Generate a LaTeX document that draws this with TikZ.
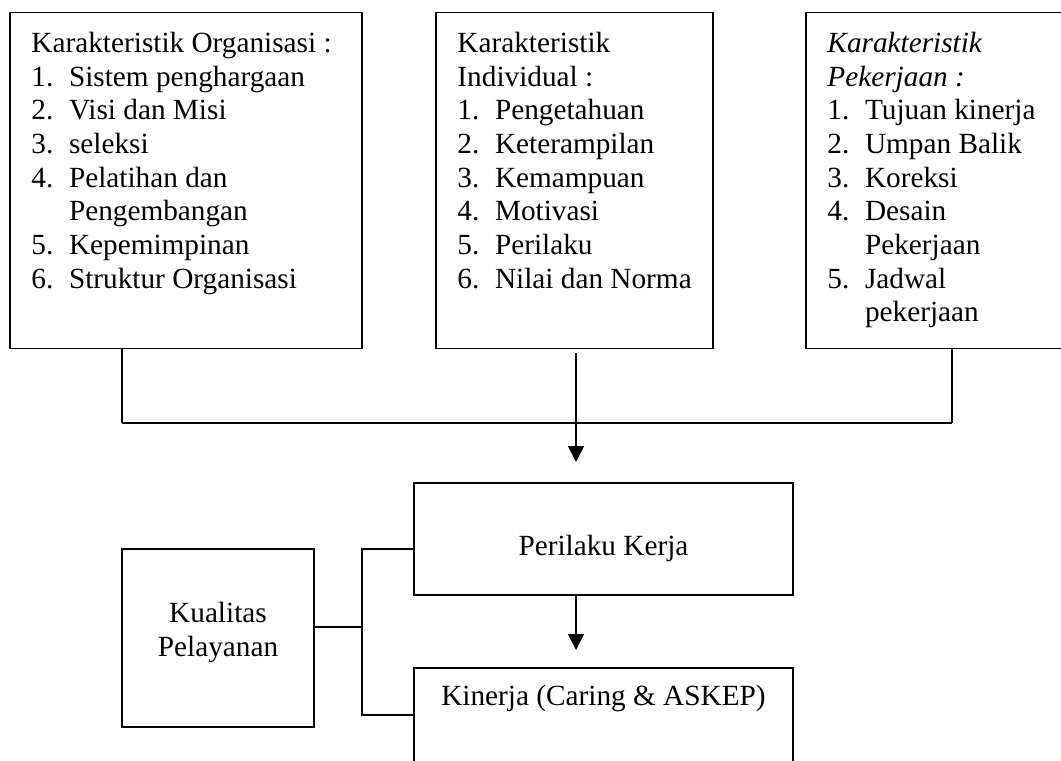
\documentclass[tikz,border=0pt]{standalone}
\usepackage{fontspec}
\setmainfont{Liberation Serif}
\usetikzlibrary{arrows.meta,fit,calc}
\newcommand{\itemnum}[1]{\makebox[15.4pt][l]{#1}}
\newcommand{\itemcont}{\hspace*{15.4pt}}
\begin{document}
\begin{tikzpicture}[x=0.41pt,y=-0.41pt,
  box/.style={draw,line width=0.75pt,inner sep=0pt},
  txt/.style={inner sep=0pt,font=\fontsize{12pt}{13.8pt}\selectfont},
  conn/.style={line width=0.75pt},
  thickconn/.style={line width=1.2pt},
  arr/.style={line width=0.7pt,-{Triangle[length=6.5pt,width=6.5pt]}}]
\useasboundingbox (0,0) rectangle (1061,760);
% boxes
\node[box, fit={(10,12.5)(362,348.5)}] (b1) {};
\node[box, fit={(436,12.5)(713,348.5)}] (b2) {};
\node[box, fit={(806,12.5)(1075,348.5)}] (b3) {};
\node[box, fit={(414,483)(793,595)}] (b4) {};
\node[box, fit={(414,668)(793,790)}] (b5) {};
\node[box, fit={(122,549)(314,727)}] (b6) {};
% texts
\node[txt,anchor=north west] (t1) at (31,28.4) {\begin{tabular}{@{}l@{}}
Karakteristik Organisasi :\\
\itemnum{1.}Sistem penghargaan\\
\itemnum{2.}Visi dan Misi\\
\itemnum{3.}seleksi\\
\itemnum{4.}Pelatihan dan\\
\itemcont Pengembangan\\
\itemnum{5.}Kepemimpinan\\
\itemnum{6.}Struktur Organisasi
\end{tabular}};
\node[txt,anchor=north west] (t2) at (457,28.4) {\begin{tabular}{@{}l@{}}
Karakteristik\\
Individual :\\
\itemnum{1.}Pengetahuan\\
\itemnum{2.}Keterampilan\\
\itemnum{3.}Kemampuan\\
\itemnum{4.}Motivasi\\
\itemnum{5.}Perilaku\\
\itemnum{6.}Nilai dan Norma
\end{tabular}};
\node[txt,anchor=north west] (t3) at (827,28.4) {\begin{tabular}{@{}l@{}}
\textit{Karakteristik}\\
\textit{Pekerjaan :}\\
\itemnum{1.}Tujuan kinerja\\
\itemnum{2.}Umpan Balik\\
\itemnum{3.}Koreksi\\
\itemnum{4.}Desain\\
\itemcont Pekerjaan\\
\itemnum{5.}Jadwal\\
\itemcont pekerjaan
\end{tabular}};
\node[txt,anchor=base] (t4) at (603.5,555) {Perilaku Kerja};
\node[txt,anchor=base] (t5) at (603.5,705) {Kinerja (Caring \& ASKEP)};
\node[txt,anchor=north] (t6) at (218,598.4) {\begin{tabular}{@{}c@{}}Kualitas\\Pelayanan\end{tabular}};
% connectors top
\coordinate (j1) at (122,423);
\coordinate (j3) at (952,423);
\draw[conn] (b1.south -| j1) -- (j1);
\draw[thickconn] (j1) -- (j3);
\draw[conn] (j3) -- (b3.south -| j3);
\coordinate (a1s) at (576,353);
\coordinate (a1e) at (576,462);
\draw[arr] (a1s) -- (a1e);
\coordinate (a2e) at (576,650);
\draw[arr] (b4.south -| a2e) -- (a2e);
% connectors bottom left
\coordinate (k1) at (362,627);
\coordinate (k2) at (362,549);
\coordinate (k3) at (362,715);
\draw[conn] (b6.east |- k1) -- (k1);
\draw[conn] (b4.west |- k2) -- (k2) -- (k3) -- (b5.west |- k3);
\end{tikzpicture}
\end{document}
